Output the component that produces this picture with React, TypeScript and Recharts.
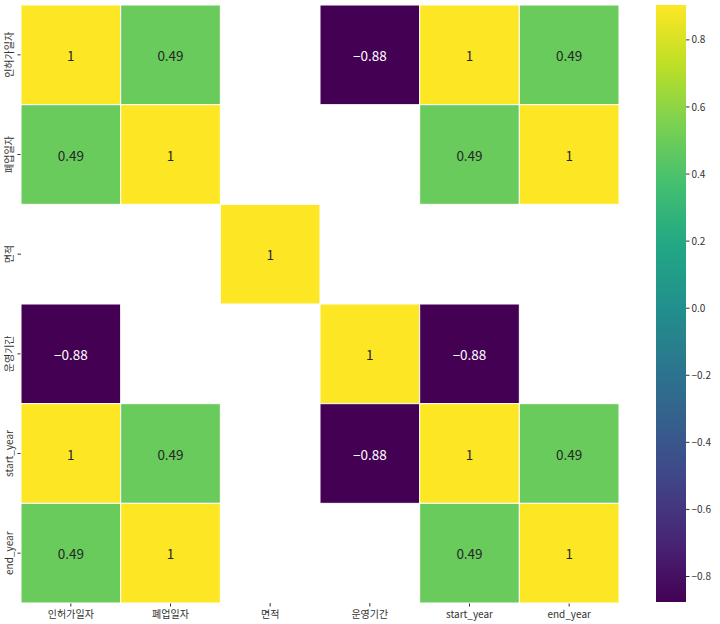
import { ScatterChart, Scatter, XAxis, YAxis, BarChart, Bar } from "recharts";

const labels = ["인허가일자", "폐업일자", "면적", "운영기간", "start_year", "end_year"];

// correlation rows (null = masked cell)
const rowPermit = [1, 0.49, null, -0.88, 1, 0.49];
const rowClose = [0.49, 1, null, null, 0.49, 1];
const rowArea = [null, null, 1, null, null, null];
const rowPeriod = [-0.88, null, null, 1, -0.88, null];
const rowStart = [1, 0.49, null, -0.88, 1, 0.49];
const rowEnd = [0.49, 1, null, null, 0.49, 1];
const matrix = [rowPermit, rowClose, rowArea, rowPeriod, rowStart, rowEnd];

const colorbarTicks = [-0.8, -0.6, -0.4, -0.2, 0, 0.2, 0.4, 0.6, 0.8];
const vmin = -0.876;
const vmax = 0.904;

const viridis = [
  "#440154", "#482475", "#414487", "#355f8d", "#2a788e", "#21918c",
  "#22a884", "#44bf70", "#7ad151", "#bddf26", "#fde725",
];

const FONT = "'Noto Sans CJK KR', 'Noto Sans', sans-serif";

function hexToRgb(h: string) {
  return [1, 3, 5].map((i) => parseInt(h.slice(i, i + 2), 16));
}

function colorFor(v: number) {
  const t = Math.max(0, Math.min(1, (v - vmin) / (vmax - vmin)));
  const pos = t * (viridis.length - 1);
  const i = Math.min(viridis.length - 2, Math.floor(pos));
  const f = pos - i;
  const a = hexToRgb(viridis[i]);
  const b = hexToRgb(viridis[i + 1]);
  const c = a.map((x, k) => Math.round(x + (b[k] - x) * f));
  return `rgb(${c[0]},${c[1]},${c[2]})`;
}

const cells = matrix.flatMap((row, r) =>
  row
    .map((v, c) => ({ x: c + 0.5, y: r + 0.5, v }))
    .filter((d) => d.v !== null)
);

const W = 625;
const H = 624;
const margin = { top: 5, right: 6, bottom: 0, left: 0 };
const yAxisW = 21;
const xAxisH = 21;
const cellW = (W - margin.left - margin.right - yAxisW) / 6;
const cellH = (H - margin.top - margin.bottom - xAxisH) / 6;

function Cell(props: any) {
  const { cx, cy, payload } = props;
  const v = payload.v as number;
  const t = (v - vmin) / (vmax - vmin);
  return (
    <g>
      <rect
        x={cx - cellW / 2}
        y={cy - cellH / 2}
        width={cellW}
        height={cellH}
        fill={colorFor(v)}
        stroke="#fff"
        strokeWidth={1}
      />
      <text
        x={cx}
        y={cy}
        textAnchor="middle"
        dominantBaseline="central"
        fontSize={13.5}
        fontFamily={FONT}
        fill={t < 0.5 ? "#ffffff" : "#262626"}
      >
        {v === 1 ? "1" : String(v).replace("-", "\u2212")}
      </text>
    </g>
  );
}

function XTick(props: any) {
  const { x, y, payload } = props;
  return (
    <text x={x} y={y + 9} textAnchor="middle" fontSize={10} fontFamily={FONT} fill="#333">
      {labels[Math.floor(payload.value)]}
    </text>
  );
}

function YTick(props: any) {
  const { x, y, payload } = props;
  const bx = x - 2.5;
  return (
    <text
      x={bx}
      y={y}
      textAnchor="middle"
      fontSize={10}
      fontFamily={FONT}
      fill="#333"
      transform={`rotate(-90 ${bx} ${y})`}
    >
      {labels[Math.floor(payload.value)]}
    </text>
  );
}

const ticks = [0.5, 1.5, 2.5, 3.5, 4.5, 5.5];
const colorbarData = [{ name: "cb", range: [vmin, vmax] }];

export default function App() {
  return (
    <div style={{ position: "absolute", left: 0, top: 0, width: 720, height: 624, background: "#fff" }}>
      <div style={{ position: "absolute", left: 0, top: 0 }}>
        <ScatterChart width={W} height={H} margin={margin}>
          <XAxis
            type="number"
            dataKey="x"
            domain={[0, 6]}
            ticks={ticks}
            height={xAxisH}
            axisLine={false}
            tickLine={{ stroke: "#333" }}
            tickSize={3.5}
            tick={<XTick />}
            interval={0}
          />
          <YAxis
            type="number"
            dataKey="y"
            domain={[0, 6]}
            reversed
            ticks={ticks}
            width={yAxisW}
            axisLine={false}
            tickLine={{ stroke: "#333" }}
            tickSize={3.5}
            tick={<YTick />}
            interval={0}
          />
          <Scatter data={cells} shape={<Cell />} isAnimationActive={false} />
        </ScatterChart>
      </div>
      <div style={{ position: "absolute", left: 656, top: 0 }}>
        <BarChart
          width={64}
          height={H}
          data={colorbarData}
          margin={{ top: 5, right: 0, bottom: 22, left: 0 }}
          barCategoryGap={0}
        >
          <defs>
            <linearGradient id="viridisGrad" x1="0" y1="1" x2="0" y2="0">
              {viridis.map((c, i) => (
                <stop key={c} offset={i / (viridis.length - 1)} stopColor={c} />
              ))}
            </linearGradient>
          </defs>
          <XAxis dataKey="name" hide />
          <YAxis
            orientation="right"
            type="number"
            domain={[vmin, vmax]}
            ticks={colorbarTicks}
            width={34}
            axisLine={false}
            tickLine={{ stroke: "#333" }}
            tickSize={3.5}
            tick={{ fontSize: 10, fontFamily: FONT, fill: "#333" }}
            tickFormatter={(v: number) => v.toFixed(1).replace("-", "\u2212")}
            interval={0}
          />
          <Bar dataKey="range" fill="url(#viridisGrad)" isAnimationActive={false} />
        </BarChart>
      </div>
    </div>
  );
}
